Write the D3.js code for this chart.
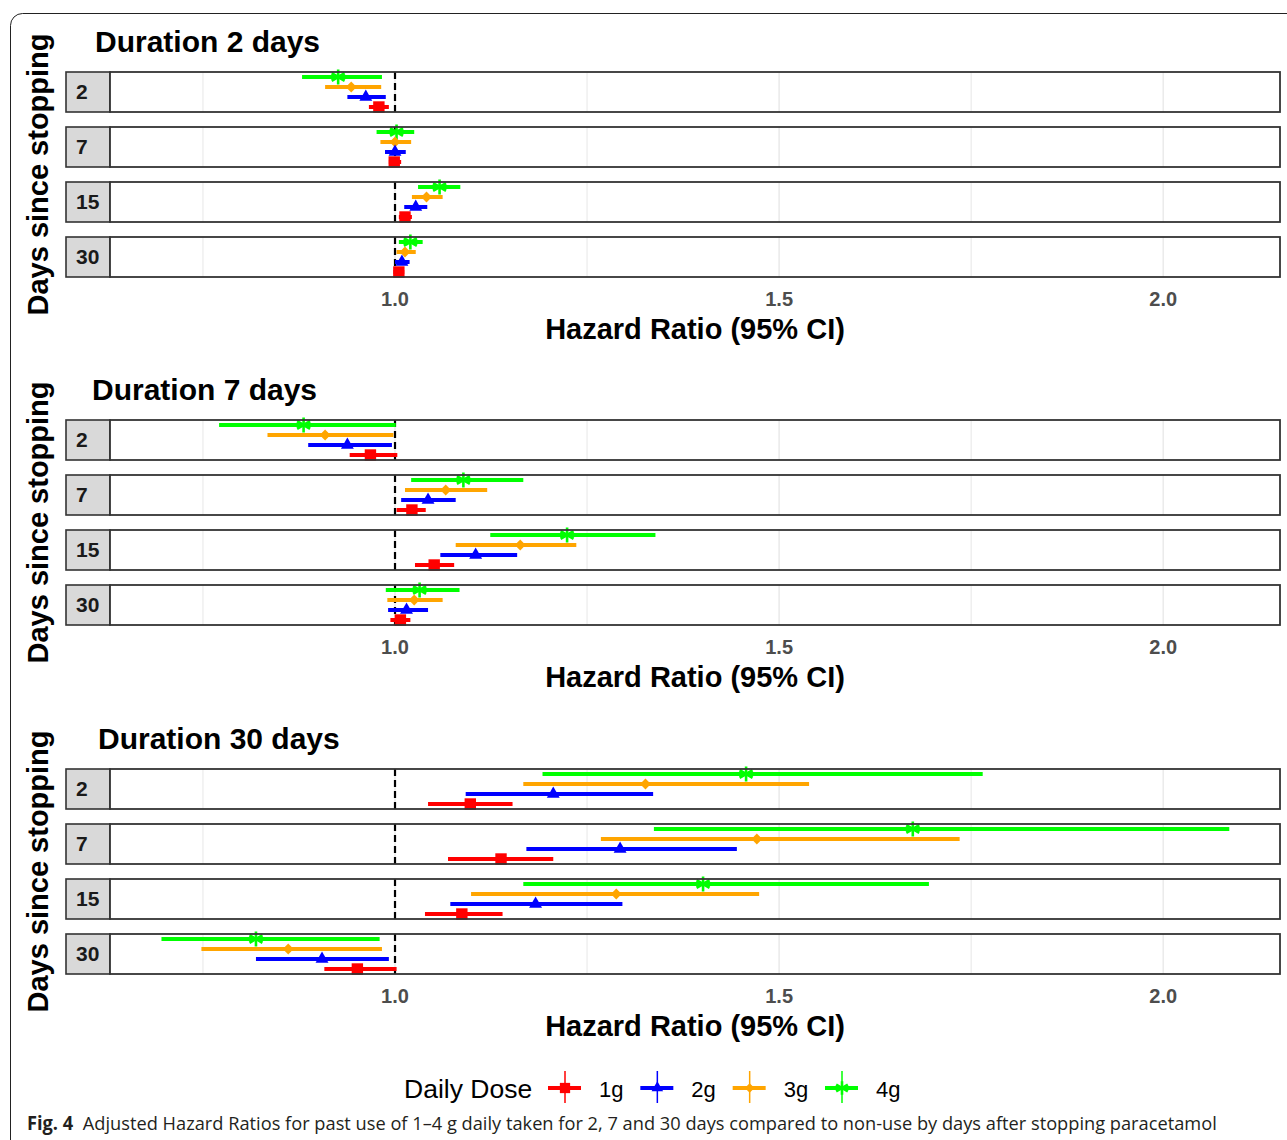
<!DOCTYPE html>
<html>
<head>
<meta charset="utf-8">
<script src="https://cdn.jsdelivr.net/npm/d3@7"></script>
<style>
  html, body { margin: 0; padding: 0; background: #fff; }
  svg { display: block; }
</style>
</head>
<body>
<svg id="chart" width="1287" height="1140"></svg>
<script>
// ---- data ---------------------------------------------------------------
const doses = ["1g", "2g", "3g", "4g"];
const daysSince = ["2", "7", "15", "30"];
const durations = ["Duration 2 days", "Duration 7 days", "Duration 30 days"];
const xTicks = [1.0, 1.5, 2.0];
const xMinorTicks = [0.75, 1.25, 1.75];

// rows = days since stopping (2, 7, 15, 30); columns = dose (1g, 2g, 3g, 4g)
const est2 = [[0.979, 0.962, 0.943, 0.926], [0.999, 1.000, 1.000, 1.002], [1.013, 1.027, 1.041, 1.058], [1.005, 1.009, 1.013, 1.020]];
const lo2  = [[0.966, 0.938, 0.909, 0.879], [0.992, 0.987, 0.981, 0.976], [1.005, 1.012, 1.022, 1.030], [0.998, 1.000, 1.002, 1.005]];
const hi2  = [[0.992, 0.988, 0.982, 0.983], [1.008, 1.014, 1.021, 1.025], [1.022, 1.042, 1.062, 1.085], [1.012, 1.019, 1.027, 1.036]];

const est7 = [[0.968, 0.938, 0.909, 0.881], [1.022, 1.043, 1.066, 1.089], [1.051, 1.105, 1.163, 1.224], [1.007, 1.015, 1.025, 1.032]];
const lo7  = [[0.941, 0.887, 0.834, 0.771], [1.002, 1.008, 1.013, 1.021], [1.026, 1.059, 1.079, 1.124], [0.994, 0.991, 0.990, 0.988]];
const hi7  = [[1.003, 0.996, 0.998, 1.001], [1.040, 1.079, 1.120, 1.167], [1.077, 1.159, 1.236, 1.339], [1.020, 1.043, 1.062, 1.084]];

const est30 = [[1.098, 1.206, 1.326, 1.457], [1.138, 1.293, 1.471, 1.674], [1.087, 1.183, 1.288, 1.401], [0.951, 0.905, 0.861, 0.819]];
const lo30  = [[1.043, 1.092, 1.167, 1.192], [1.069, 1.171, 1.268, 1.337], [1.039, 1.072, 1.099, 1.167], [0.908, 0.819, 0.748, 0.696]];
const hi30  = [[1.153, 1.336, 1.539, 1.765], [1.206, 1.445, 1.735, 2.086], [1.140, 1.296, 1.474, 1.695], [1.002, 0.992, 0.983, 0.980]];

const doseColors = ["#ff0000", "#0000ff", "#ffa500", "#00ff00"];

// ---- layout -------------------------------------------------------------
const svg = d3.select("#chart");
const FONT = "'Liberation Sans', Arial, sans-serif";

// outer figure frame with rounded corner
svg.append("rect")
  .attr("x", 10.5).attr("y", 13.5)
  .attr("width", 1400).attr("height", 1300)
  .attr("rx", 12).attr("ry", 12)
  .attr("fill", "none").attr("stroke", "#222").attr("stroke-width", 1);

const x = d3.scaleLinear().domain([0.629, 2.152]).range([110, 1280]);

const panels = [
  { title: durations[0], est: est2, lo: lo2, hi: hi2, top: 0, titleX: 95 },
  { title: durations[1], est: est7, lo: lo7, hi: hi7, top: 348, titleX: 92 },
  { title: durations[2], est: est30, lo: lo30, hi: hi30, top: 697, titleX: 98 }
];

// marker shapes per dose: square, triangle, diamond (rotated square), asterisk
const symbolFor = [
  { sym: d3.symbol().type(d3.symbolSquare), size: 130, rot: 0 },
  { sym: d3.symbol().type(d3.symbolTriangle), size: 72, rot: 0 },
  { sym: d3.symbol().type(d3.symbolSquare), size: 58, rot: 45 },
  null // asterisk drawn as three crossing strokes
];

function drawMarker(g, i, cx, cy, scale = 1) {
  if (i === 3) {
    const r = 7.5 * scale;
    const a = g.append("g").attr("transform", `translate(${cx},${cy})`)
      .attr("stroke", doseColors[3]).attr("stroke-width", 2.6);
    [0, 60, 120].forEach(ang => {
      const rad = ang * Math.PI / 180;
      a.append("line")
        .attr("x1", -r * Math.sin(rad)).attr("y1", -r * Math.cos(rad))
        .attr("x2", r * Math.sin(rad)).attr("y2", r * Math.cos(rad));
    });
  } else {
    const s = symbolFor[i];
    g.append("path")
      .attr("d", s.sym.size(s.size * scale * scale)())
      .attr("transform", `translate(${cx},${cy}) rotate(${s.rot})`)
      .attr("fill", doseColors[i]);
  }
}

panels.forEach(p => {
  const g = svg.append("g").attr("transform", `translate(0,${p.top})`);

  const y = d3.scaleBand().domain(daysSince).range([72, 277]).paddingInner(15 / 55).paddingOuter(0);
  const yDose = d3.scalePoint().domain(["4g", "3g", "2g", "1g"]).range([5, 35]);

  // panel title
  g.append("text")
    .attr("x", p.titleX).attr("y", 52)
    .attr("font-family", FONT).attr("font-weight", "bold").attr("font-size", 30)
    .attr("fill", "#000").text(p.title);

  // y-axis title
  g.append("text")
    .attr("transform", `translate(48,${(72 + 277) / 2}) rotate(-90)`)
    .attr("text-anchor", "middle")
    .attr("font-family", FONT).attr("font-weight", "bold").attr("font-size", 29)
    .attr("fill", "#000").text("Days since stopping");

  daysSince.forEach((day, r) => {
    const y0 = y(day), h = y.bandwidth();
    const row = g.append("g");

    // strip
    row.append("rect").attr("x", 66).attr("y", y0).attr("width", 44).attr("height", h)
      .attr("fill", "#d9d9d9").attr("stroke", "#333").attr("stroke-width", 1.6);
    row.append("text").attr("x", 76).attr("y", y0 + h / 2 + 7)
      .attr("font-family", FONT).attr("font-weight", "bold").attr("font-size", 21)
      .attr("fill", "#1a1a1a").text(day);

    // plot background
    row.append("rect").attr("x", 110).attr("y", y0).attr("width", 1170).attr("height", h)
      .attr("fill", "#fff");

    // grid
    row.selectAll("line.minor").data(xMinorTicks).join("line")
      .attr("x1", d => x(d)).attr("x2", d => x(d)).attr("y1", y0).attr("y2", y0 + h)
      .attr("stroke", "#ebebeb").attr("stroke-width", 1.2);
    row.selectAll("line.major").data(xTicks).join("line")
      .attr("x1", d => x(d)).attr("x2", d => x(d)).attr("y1", y0).attr("y2", y0 + h)
      .attr("stroke", "#ebebeb").attr("stroke-width", 1.6);

    // reference line at HR = 1
    row.append("line").attr("x1", x(1)).attr("x2", x(1)).attr("y1", y0).attr("y2", y0 + h)
      .attr("stroke", "#000").attr("stroke-width", 2.2).attr("stroke-dasharray", "7,4");

    // error bars and point estimates, drawn 4g first (top) down to 1g
    [3, 2, 1, 0].forEach(i => {
      const cy = y0 + yDose(doses[i]);
      row.append("line")
        .attr("x1", x(p.lo[r][i])).attr("x2", x(p.hi[r][i]))
        .attr("y1", cy).attr("y2", cy)
        .attr("stroke", doseColors[i]).attr("stroke-width", 4);
      drawMarker(row, i, x(p.est[r][i]), cy);
    });

    // panel border
    row.append("rect").attr("x", 110).attr("y", y0).attr("width", 1170).attr("height", h)
      .attr("fill", "none").attr("stroke", "#333").attr("stroke-width", 1.8);
  });

  // x axis tick labels
  g.selectAll("text.tick").data(xTicks).join("text")
    .attr("x", d => x(d)).attr("y", 306).attr("text-anchor", "middle")
    .attr("font-family", FONT).attr("font-weight", "bold").attr("font-size", 20)
    .attr("fill", "#4d4d4d").text(d => d3.format(".1f")(d));

  // x axis title
  g.append("text")
    .attr("x", (110 + 1280) / 2).attr("y", 339).attr("text-anchor", "middle")
    .attr("font-family", FONT).attr("font-weight", "bold").attr("font-size", 29)
    .attr("fill", "#000").text("Hazard Ratio (95% CI)");
});

// ---- legend -------------------------------------------------------------
const legend = svg.append("g");
legend.append("text").attr("x", 404).attr("y", 1098)
  .attr("font-family", FONT).attr("font-size", 26.5).attr("fill", "#000").text("Daily Dose");

const keyX = d3.scalePoint().domain(doses).range([565, 842]);
doses.forEach((d, i) => {
  const cx = keyX(d), cy = 1088;
  legend.append("line").attr("x1", cx).attr("x2", cx).attr("y1", cy - 17).attr("y2", cy + 15)
    .attr("stroke", doseColors[i]).attr("stroke-width", 1.5);
  legend.append("line").attr("x1", cx - 17).attr("x2", cx + 16).attr("y1", cy).attr("y2", cy)
    .attr("stroke", doseColors[i]).attr("stroke-width", 4);
  drawMarker(legend, i, cx, cy, 0.9);
  legend.append("text").attr("x", cx + 34).attr("y", cy + 9)
    .attr("font-family", FONT).attr("font-size", 22).attr("fill", "#000").text(d);
});

// ---- caption ------------------------------------------------------------
const cap = svg.append("text").attr("x", 27).attr("y", 1130)
  .attr("font-family", "'Open Sans', 'Noto Sans', sans-serif").attr("font-size", 19).attr("fill", "#231f20");
cap.append("tspan").attr("font-weight", "bold").text("Fig. 4");
cap.append("tspan").attr("dx", 10)
  .text("Adjusted Hazard Ratios for past use of 1–4 g daily taken for 2, 7 and 30 days compared to non-use by days after stopping paracetamol");
const capBox = cap.node().getBBox();
const targetW = 1218 - 27;
cap.attr("transform", `translate(27,0) scale(${targetW / capBox.width},1) translate(-27,0)`);
</script>
</body>
</html>
